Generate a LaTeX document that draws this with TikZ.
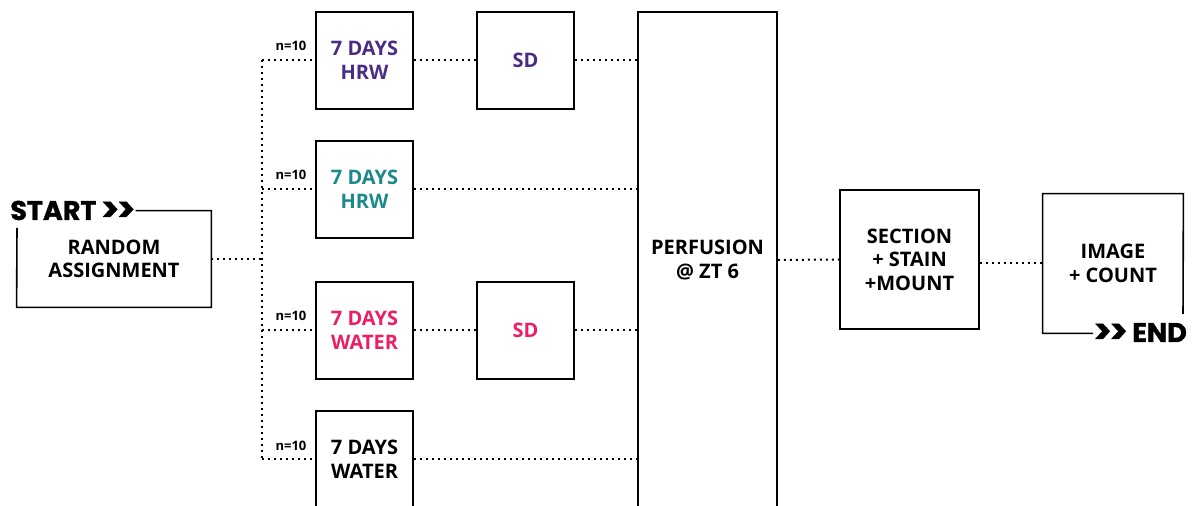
\documentclass[tikz,border=0pt]{standalone}
\usepackage{fontspec}
\setmainfont{Open Sans}
\newfontfamily\popfont{Poppins}[BoldFeatures={FakeBold=1.2}]
\definecolor{cpurple}{HTML}{4B2C85}
\definecolor{cteal}{HTML}{1B8A8A}
\definecolor{cpink}{HTML}{EC1F63}
\newcommand{\chev}{{\fontsize{17}{17}\selectfont\raisebox{-0.6pt}{>\kern-1.2pt>}}}
\begin{document}
\begin{tikzpicture}[x=0.5pt,y=-0.5pt,
  txt/.style={inner sep=0, align=center, font=\bfseries\fontsize{10}{11.8}\selectfont},
  box/.style={txt, draw, line width=0.8pt, minimum width=48.5pt, minimum height=48.5pt},
  bigbox/.style={txt, draw, line width=0.8pt, minimum width=69.5pt, minimum height=69.5pt},
  frame/.style={line width=0.8pt},
  link/.style={line width=1pt, dash pattern=on 1pt off 2pt},
  nlabel/.style={inner sep=0, font=\bfseries\fontsize{6.5}{7}\selectfont, anchor=base},
  big/.style={inner sep=0, font=\popfont\bfseries\fontsize{13.5}{13.5}\selectfont}]
\useasboundingbox (0,0) rectangle (1197,506);
\clip (0,0) rectangle (1197,506);

% start / random assignment
\node[big, anchor=base west] (start) at (10,220) {START\,\chev};
\node[txt, minimum width=97pt, minimum height=48pt] (ra) at (114,259) {RANDOM\\ASSIGNMENT};
\coordinate (raleft) at (17,228);
\draw[frame] (start.east |- ra.north) -- (ra.north east) -- (ra.south east) -- (ra.south west) -- (raleft);

% groups
\node[box, text=cpurple] (g1) at (364.5,60.5) {7 DAYS\\HRW};
\node[box, text=cteal] (g2) at (364.5,189.5) {7 DAYS\\HRW};
\node[box, text=cpink] (g3) at (364.5,330.5) {7 DAYS\\WATER};
\node[box] (g4) at (364.5,459.5) {7 DAYS\\WATER};

\node[box, text=cpurple] (sd1) at (525.5,60.5) {SD};
\node[box, text=cpink] (sd3) at (525.5,330.5) {SD};

\node[txt, draw, line width=0.8pt, minimum width=69.5pt, minimum height=248pt] (perf) at (707.5,260) {PERFUSION\\@ ZT 6};

\node[bigbox] (sec) at (909.5,259.5) {SECTION\\+ STAIN\\+MOUNT};

\node[txt, minimum width=70pt, minimum height=69.5pt] (img) at (1113,263.5) {IMAGE\\+ COUNT};
\node[big, anchor=base west] (end) at (1093,342) {\chev\,END};
\coordinate (imgright) at (1183,314);
\draw[frame] (imgright) -- (img.north east) -- (img.north west) -- (img.south west) -- (end.west |- img.south);

% n labels
\node[nlabel] (n1) at (291,51) {n=10};
\node[nlabel] (n2) at (291,180) {n=10};
\node[nlabel] (n3) at (291,321) {n=10};
\node[nlabel] (n4) at (291,451) {n=10};

% spine
\coordinate (sp) at (262,259);
\coordinate (sp1) at (262,60.5);
\coordinate (sp4) at (262,459.5);
\draw[link] (ra.east) -- (sp);
\draw[link] (sp1) -- (sp4);
\draw[link] (sp1) -- (g1.west);
\draw[link] (sp |- g2.west) -- (g2.west);
\draw[link] (sp |- g3.west) -- (g3.west);
\draw[link] (sp4) -- (g4.west);

\draw[link] (g1.east) -- (sd1.west);
\draw[link] (sd1.east) -- (perf.west |- sd1.east);
\draw[link] (g2.east) -- (perf.west |- g2.east);
\draw[link] (g3.east) -- (sd3.west);
\draw[link] (sd3.east) -- (perf.west |- sd3.east);
\draw[link] (g4.east) -- (perf.west |- g4.east);

\draw[link] (perf.east) -- (sec.west);
\draw[link] (sec.east |- img.west) -- (img.west);
\end{tikzpicture}
\end{document}
